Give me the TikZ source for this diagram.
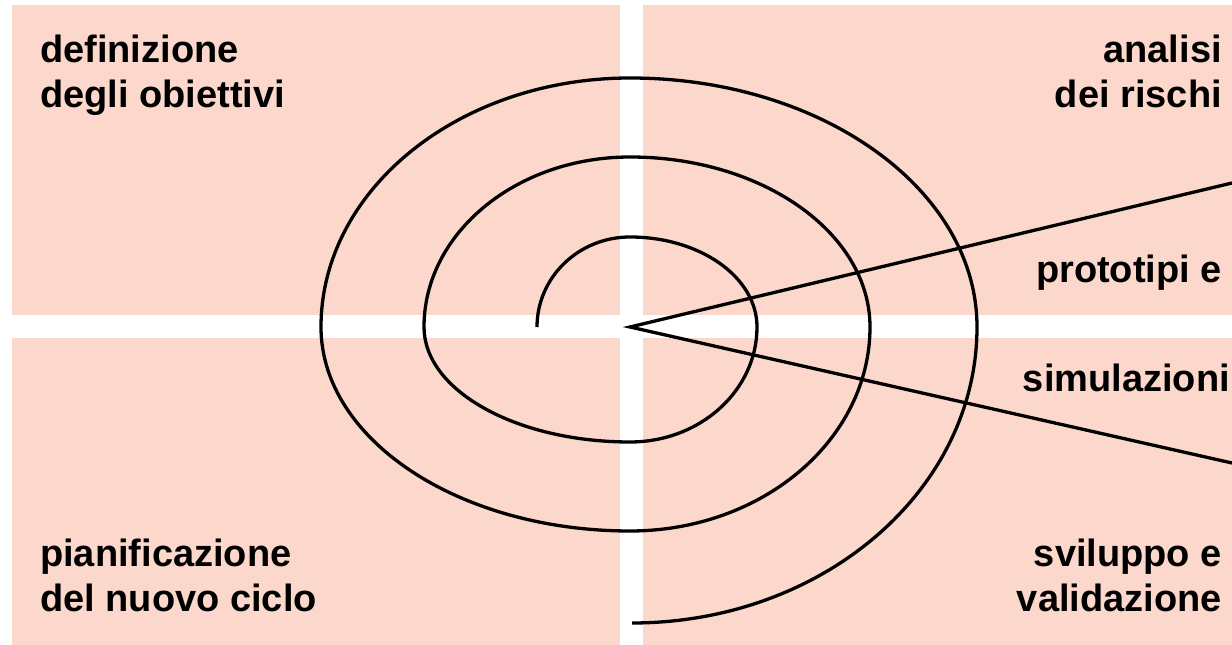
\documentclass[tikz,border=0pt]{standalone}
\usepackage{fontspec}
\setmainfont{Liberation Sans}
\usepackage{xcolor}
\definecolor{quadFill}{RGB}{252,215,203}
\definecolor{inkLine}{RGB}{0,0,0}

\begin{document}
\begin{tikzpicture}[x=1pt,y=1pt,
  quad/.style={fill=quadFill},
  spiral/.style={draw=inkLine,line width=3.3pt},
  lbl/.style={inner sep=0pt,font=\fontsize{38}{45}\selectfont\bfseries}]
  \useasboundingbox (0,0) rectangle (1232,645);
  \clip (0,0) rectangle (1232,645);
  \fill[white] (0,0) rectangle (1232,645);

  % quadrants
  \fill[quad] (12,330) rectangle (620,640);
  \fill[quad] (643,330) rectangle (1240,640);
  \fill[quad] (12,0) rectangle (620,307);
  \fill[quad] (643,0) rectangle (1240,307);

  % labels (base = last line)
  \node[lbl,anchor=base west,align=left] (goals) at (40,537) {definizione\\degli obiettivi};
  \node[lbl,anchor=base east,align=right] (risks) at (1222,537) {analisi\\dei rischi};
  \node[lbl,anchor=base east] (proto) at (1222,362) {prototipi e};
  \node[lbl,anchor=base east] (simul) at (1230,253) {simulazioni};
  \node[lbl,anchor=base east,align=right] (devel) at (1222,33) {sviluppo e\\validazione};
  \node[lbl,anchor=base west,align=left] (plan) at (40,33) {pianificazione\\del nuovo ciclo};

  % spiral
  \draw[spiral] (537,318)
    arc[start angle=180,end angle=90,x radius=93,y radius=90]
    arc[start angle=90,end angle=0,x radius=127,y radius=90]
    arc[start angle=0,end angle=-90,x radius=127,y radius=115]
    arc[start angle=-90,end angle=-180,x radius=206,y radius=115]
    arc[start angle=180,end angle=90,x radius=206,y radius=170]
    arc[start angle=90,end angle=0,x radius=240,y radius=170]
    arc[start angle=0,end angle=-90,x radius=240,y radius=204]
    arc[start angle=-90,end angle=-180,x radius=309,y radius=204]
    arc[start angle=180,end angle=90,x radius=309,y radius=249]
    arc[start angle=90,end angle=0,x radius=347,y radius=249]
    arc[start angle=0,end angle=-90,x radius=345,y radius=296];

  % wedge
  \coordinate (tip) at (630,318);
  \coordinate (wedgeTop) at (1232,462);
  \coordinate (wedgeBot) at (1232,182);
  \draw[spiral,line join=miter] (wedgeTop) -- (tip) -- (wedgeBot);
\end{tikzpicture}
\end{document}
